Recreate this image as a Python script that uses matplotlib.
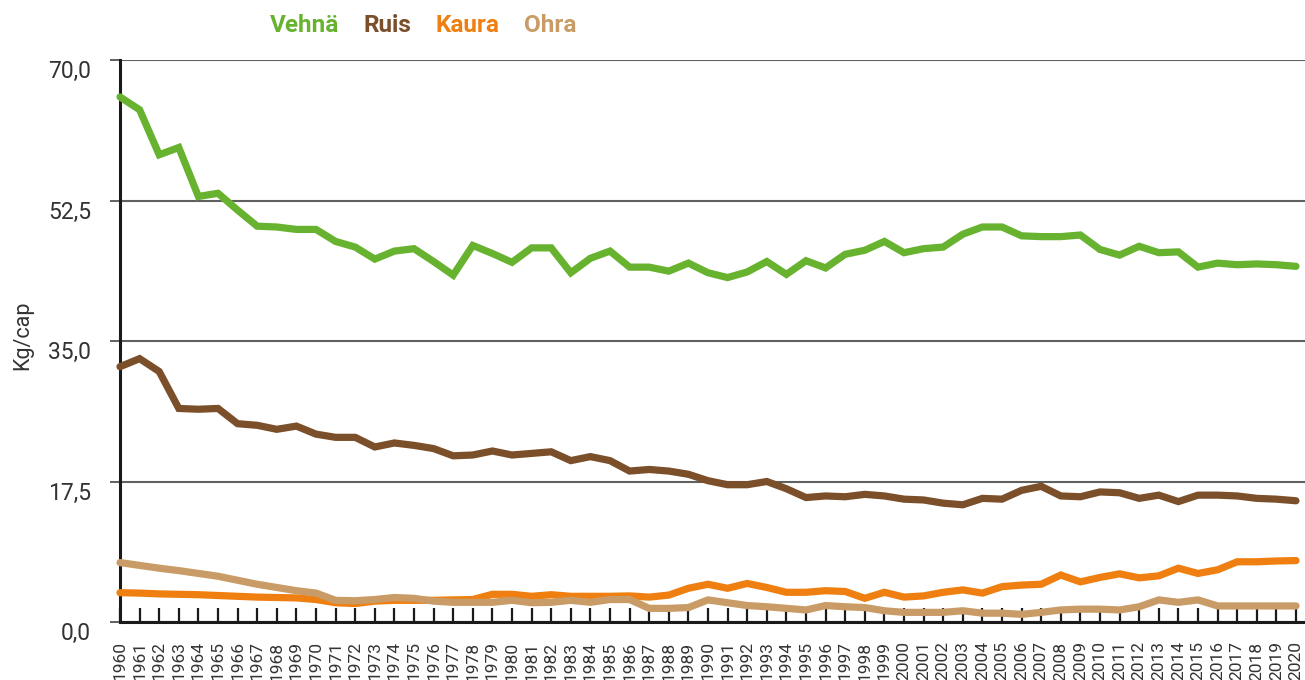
import numpy as np
import matplotlib
matplotlib.use("Agg")
import matplotlib.pyplot as plt

plt.rcParams["font.family"] = ["Roboto", "DejaVu Sans"]

years = list(range(1960, 2021))

vehna = [65.4, 63.8, 58.2, 59.1, 53.0, 53.4, 51.3, 49.3, 49.2, 48.9,
         48.9, 47.4, 46.7, 45.2, 46.2, 46.5, 44.9, 43.2, 46.9, 45.9,
         44.8, 46.6, 46.6, 43.5, 45.3, 46.2, 44.2, 44.2, 43.7, 44.7,
         43.5, 42.9, 43.6, 44.9, 43.3, 45.0, 44.1, 45.8, 46.3, 47.4,
         46.0, 46.5, 46.7, 48.3, 49.2, 49.2, 48.1, 48.0, 48.0, 48.2,
         46.4, 45.7, 46.8, 46.0, 46.1, 44.2, 44.7, 44.5, 44.6, 44.5,
         44.3]

ruis = [31.8, 32.8, 31.2, 26.6, 26.5, 26.6, 24.7, 24.5, 24.0, 24.4,
        23.4, 23.0, 23.0, 21.8, 22.3, 22.0, 21.6, 20.7, 20.8, 21.3,
        20.8, 21.0, 21.2, 20.1, 20.6, 20.1, 18.8, 19.0, 18.8, 18.4,
        17.6, 17.1, 17.1, 17.5, 16.6, 15.5, 15.7, 15.6, 15.9, 15.7,
        15.3, 15.2, 14.8, 14.6, 15.4, 15.3, 16.4, 16.9, 15.7, 15.6,
        16.2, 16.1, 15.4, 15.8, 15.0, 15.8, 15.8, 15.7, 15.4, 15.3,
        15.1]

kaura = [3.65, 3.6, 3.5, 3.45, 3.4, 3.3, 3.2, 3.1, 3.05, 3.0,
         2.8, 2.4, 2.3, 2.6, 2.7, 2.7, 2.7, 2.75, 2.8, 3.45,
         3.45, 3.2, 3.4, 3.2, 3.2, 3.2, 3.25, 3.1, 3.35, 4.2,
         4.7, 4.2, 4.8, 4.3, 3.7, 3.7, 3.9, 3.8, 2.95, 3.7,
         3.1, 3.25, 3.7, 4.0, 3.6, 4.4, 4.6, 4.7, 5.85, 5.0,
         5.55, 6.0, 5.5, 5.75, 6.7, 6.05, 6.5, 7.5, 7.5, 7.6,
         7.65]

ohra = [7.4, 7.05, 6.7, 6.4, 6.05, 5.7, 5.2, 4.7, 4.3, 3.9,
        3.6, 2.7, 2.65, 2.8, 3.05, 2.95, 2.6, 2.45, 2.45, 2.45,
        2.7, 2.4, 2.45, 2.7, 2.45, 2.8, 2.8, 1.7, 1.7, 1.8,
        2.75, 2.4, 2.05, 1.9, 1.7, 1.5, 2.05, 1.9, 1.8, 1.4,
        1.2, 1.2, 1.2, 1.4, 1.1, 1.1, 0.95, 1.2, 1.5, 1.6,
        1.6, 1.5, 1.9, 2.75, 2.45, 2.75, 2.0, 2.0, 2.0, 2.0,
        2.0]

series_names = ["Vehnä", "Ruis", "Kaura", "Ohra"]
series_colors = ["#67b22f", "#7b4f2a", "#ef7f10", "#c99c67"]
y_ticks = [0, 17.5, 35, 52.5, 70]
y_ticklabels = ["0,0", "17,5", "35,0", "52,5", "70,0"]

fig = plt.figure(figsize=(13.05, 6.8), dpi=100)
ax = fig.add_axes([120 / 1305, 58 / 680, 1185 / 1305, 562 / 680])

lines = []
for vals, name, color in zip([vehna, ruis, kaura, ohra], series_names, series_colors):
    ln, = ax.plot(years, vals, color=color, lw=5.2, label=name,
                  solid_capstyle="round", solid_joinstyle="miter",
                  clip_on=False, zorder=5)
    lines.append(ln)

ax.set_xlim(1960, 2020.46)
ax.set_ylim(0, 70)

ax.set_yticks(y_ticks)
ax.set_yticklabels(y_ticklabels)
ax.set_xticks(years)
ax.set_xticklabels([str(y) for y in years], rotation=90)

ax.tick_params(axis="y", direction="out", length=7.2, width=1.4,
               color="#606060", labelsize=16.5, labelcolor="#333333", pad=13.5)
ax.tick_params(axis="x", direction="in", length=10, width=1.6,
               color="#1a1a1a", labelsize=12.5, labelcolor="#333333", pad=14)
for lab in ax.get_yticklabels():
    lab.set_verticalalignment("top")

ax.grid(axis="y", color="#606060", lw=1.5)
ax.set_axisbelow(True)

for side in ["top", "right"]:
    ax.spines[side].set_visible(False)
for side in ["left", "bottom"]:
    ax.spines[side].set_color("#1a1a1a")
    ax.spines[side].set_linewidth(2.2)
    ax.spines[side].set_zorder(4)

ax.set_ylabel("Kg/cap", fontsize=15.5, color="#333333")
ax.yaxis.set_label_coords(-87 / 1185, 0.51)

leg = fig.legend(handles=lines, labels=series_names, loc="center left",
                 bbox_to_anchor=(270 / 1305, 1 - 25 / 680), ncol=4,
                 frameon=False, handlelength=0, handletextpad=0,
                 columnspacing=1.0, borderpad=0, borderaxespad=0,
                 labelcolor=series_colors,
                 prop={"family": "Roboto", "weight": "bold", "size": 17.5})
for h in leg.legend_handles:
    h.set_visible(False)

fig.savefig("out.png", dpi=100)
